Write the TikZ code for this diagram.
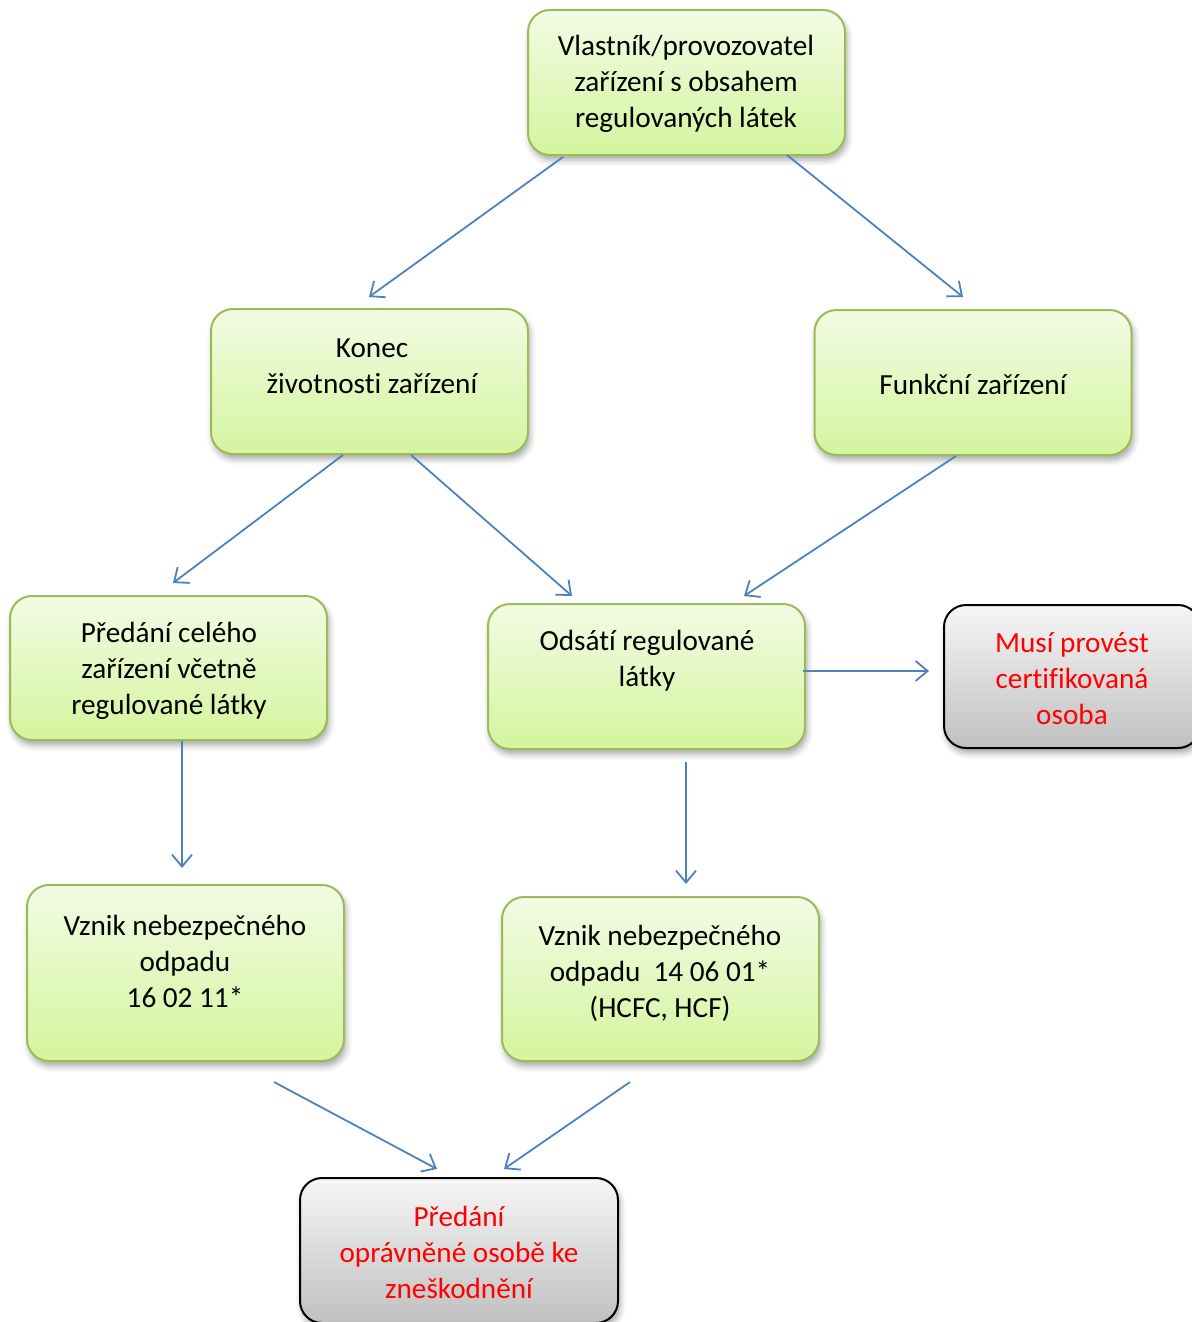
\documentclass[tikz,border=0pt]{standalone}
\usepackage{fontspec}
\setmainfont[Ligatures=NoCommon]{Carlito}
\usetikzlibrary{arrows.meta,shadows.blur}
\definecolor{gborder}{RGB}{155,187,89}
\definecolor{gtop}{RGB}{242,251,228}
\definecolor{gbot}{RGB}{212,245,158}
\definecolor{ktop}{RGB}{246,246,246}
\definecolor{kbot}{RGB}{192,192,192}
\definecolor{arr}{RGB}{79,129,189}
\definecolor{redtext}{RGB}{255,0,0}
\tikzset{
  boxbase/.style={rectangle, rounded corners=11pt, inner sep=0pt,
    blur shadow={shadow xshift=1pt, shadow yshift=-2.5pt, shadow blur radius=3pt, shadow opacity=35}},
  gbox/.style={boxbase, draw=gborder, line width=1pt, top color=gtop, bottom color=gbot},
  kbox/.style={boxbase, draw=black, line width=1pt, top color=ktop, bottom color=kbot},
  txt/.style={align=center, font=\fontsize{14.6}{18}\selectfont, inner sep=0pt},
  rtxt/.style={txt, text=redtext},
  conn/.style={draw=arr, line width=0.9pt, -{Straight Barb[length=6pt,width=10pt,line width=0.9pt]}}
}
\begin{document}
\begin{tikzpicture}[x=0.5pt,y=-0.5pt]
\useasboundingbox (0,0) rectangle (1192,1322);
% boxes
\node[gbox, minimum width=158.5pt, minimum height=72.5pt] (b1) at (686.5,82.5) {};
\node[gbox, minimum width=158.5pt, minimum height=72.5pt] (b2) at (369.5,381.5) {};
\node[gbox, minimum width=158.5pt, minimum height=72.5pt] (b3) at (973,382.5) {};
\node[gbox, minimum width=158.5pt, minimum height=72pt] (b4) at (168.5,668) {};
\node[gbox, minimum width=158.5pt, minimum height=72.5pt] (b5) at (646.5,676.5) {};
\node[kbox, minimum width=128pt, minimum height=71.5pt] (b6) at (1072,676.5) {};
\node[gbox, minimum width=158.5pt, minimum height=88pt] (b7) at (185.5,973) {};
\node[gbox, minimum width=158.5pt, minimum height=82pt] (b8) at (660.5,979) {};
\node[kbox, minimum width=159pt, minimum height=72.5pt] (b9) at (459,1250.5) {};
% texts
\node[txt] (t1) at (686,84) {Vlastník/provozovatel\\zařízení s obsahem\\regulovaných látek};
\node[txt] (t2) at (372,366) {Konec\\ životnosti zařízení};
\node[txt] (t3) at (973,384) {Funkční zařízení};
\node[txt] (t4) at (169,671) {Předání celého\\zařízení včetně\\regulované látky};
\node[txt] (t5) at (647,661) {Odsátí regulované\\látky};
\node[rtxt] (t6) at (1072,679) {Musí provést\\certifikovaná\\osoba};
\node[txt] (t7) at (185,961) {Vznik nebezpečného\\odpadu\\16 02 11*};
\node[txt] (t8) at (660,973) {Vznik nebezpečného\\odpadu\ \ 14 06 01*\\(HCFC, HCF)};
\node[rtxt] (t9) at (459,1252) {Předání\\oprávněné osobě ke\\zneškodnění};
% connector endpoints
\coordinate (a1s) at (563,157); \coordinate (a1e) at (369,297);
\coordinate (a2s) at (787,155); \coordinate (a2e) at (963,297);
\coordinate (a3s) at (343,455); \coordinate (a3e) at (173,583);
\coordinate (a4s) at (411,455); \coordinate (a4e) at (572,596);
\coordinate (a5s) at (956,456); \coordinate (a5e) at (744,596);
\coordinate (a6s) at (182,741); \coordinate (a6e) at (182,868);
\coordinate (a7s) at (803,671); \coordinate (a7e) at (929,671);
\coordinate (a8s) at (686,762); \coordinate (a8e) at (686,884);
\coordinate (a9s) at (274,1082); \coordinate (a9e) at (437,1169);
\coordinate (a10s) at (630,1082); \coordinate (a10e) at (504,1169);
\draw[conn] (a1s) -- (a1e);
\draw[conn] (a2s) -- (a2e);
\draw[conn] (a3s) -- (a3e);
\draw[conn] (a4s) -- (a4e);
\draw[conn] (a5s) -- (a5e);
\draw[conn] (a6s) -- (a6e);
\draw[conn] (a7s) -- (a7e);
\draw[conn] (a8s) -- (a8e);
\draw[conn] (a9s) -- (a9e);
\draw[conn] (a10s) -- (a10e);
\end{tikzpicture}
\end{document}
